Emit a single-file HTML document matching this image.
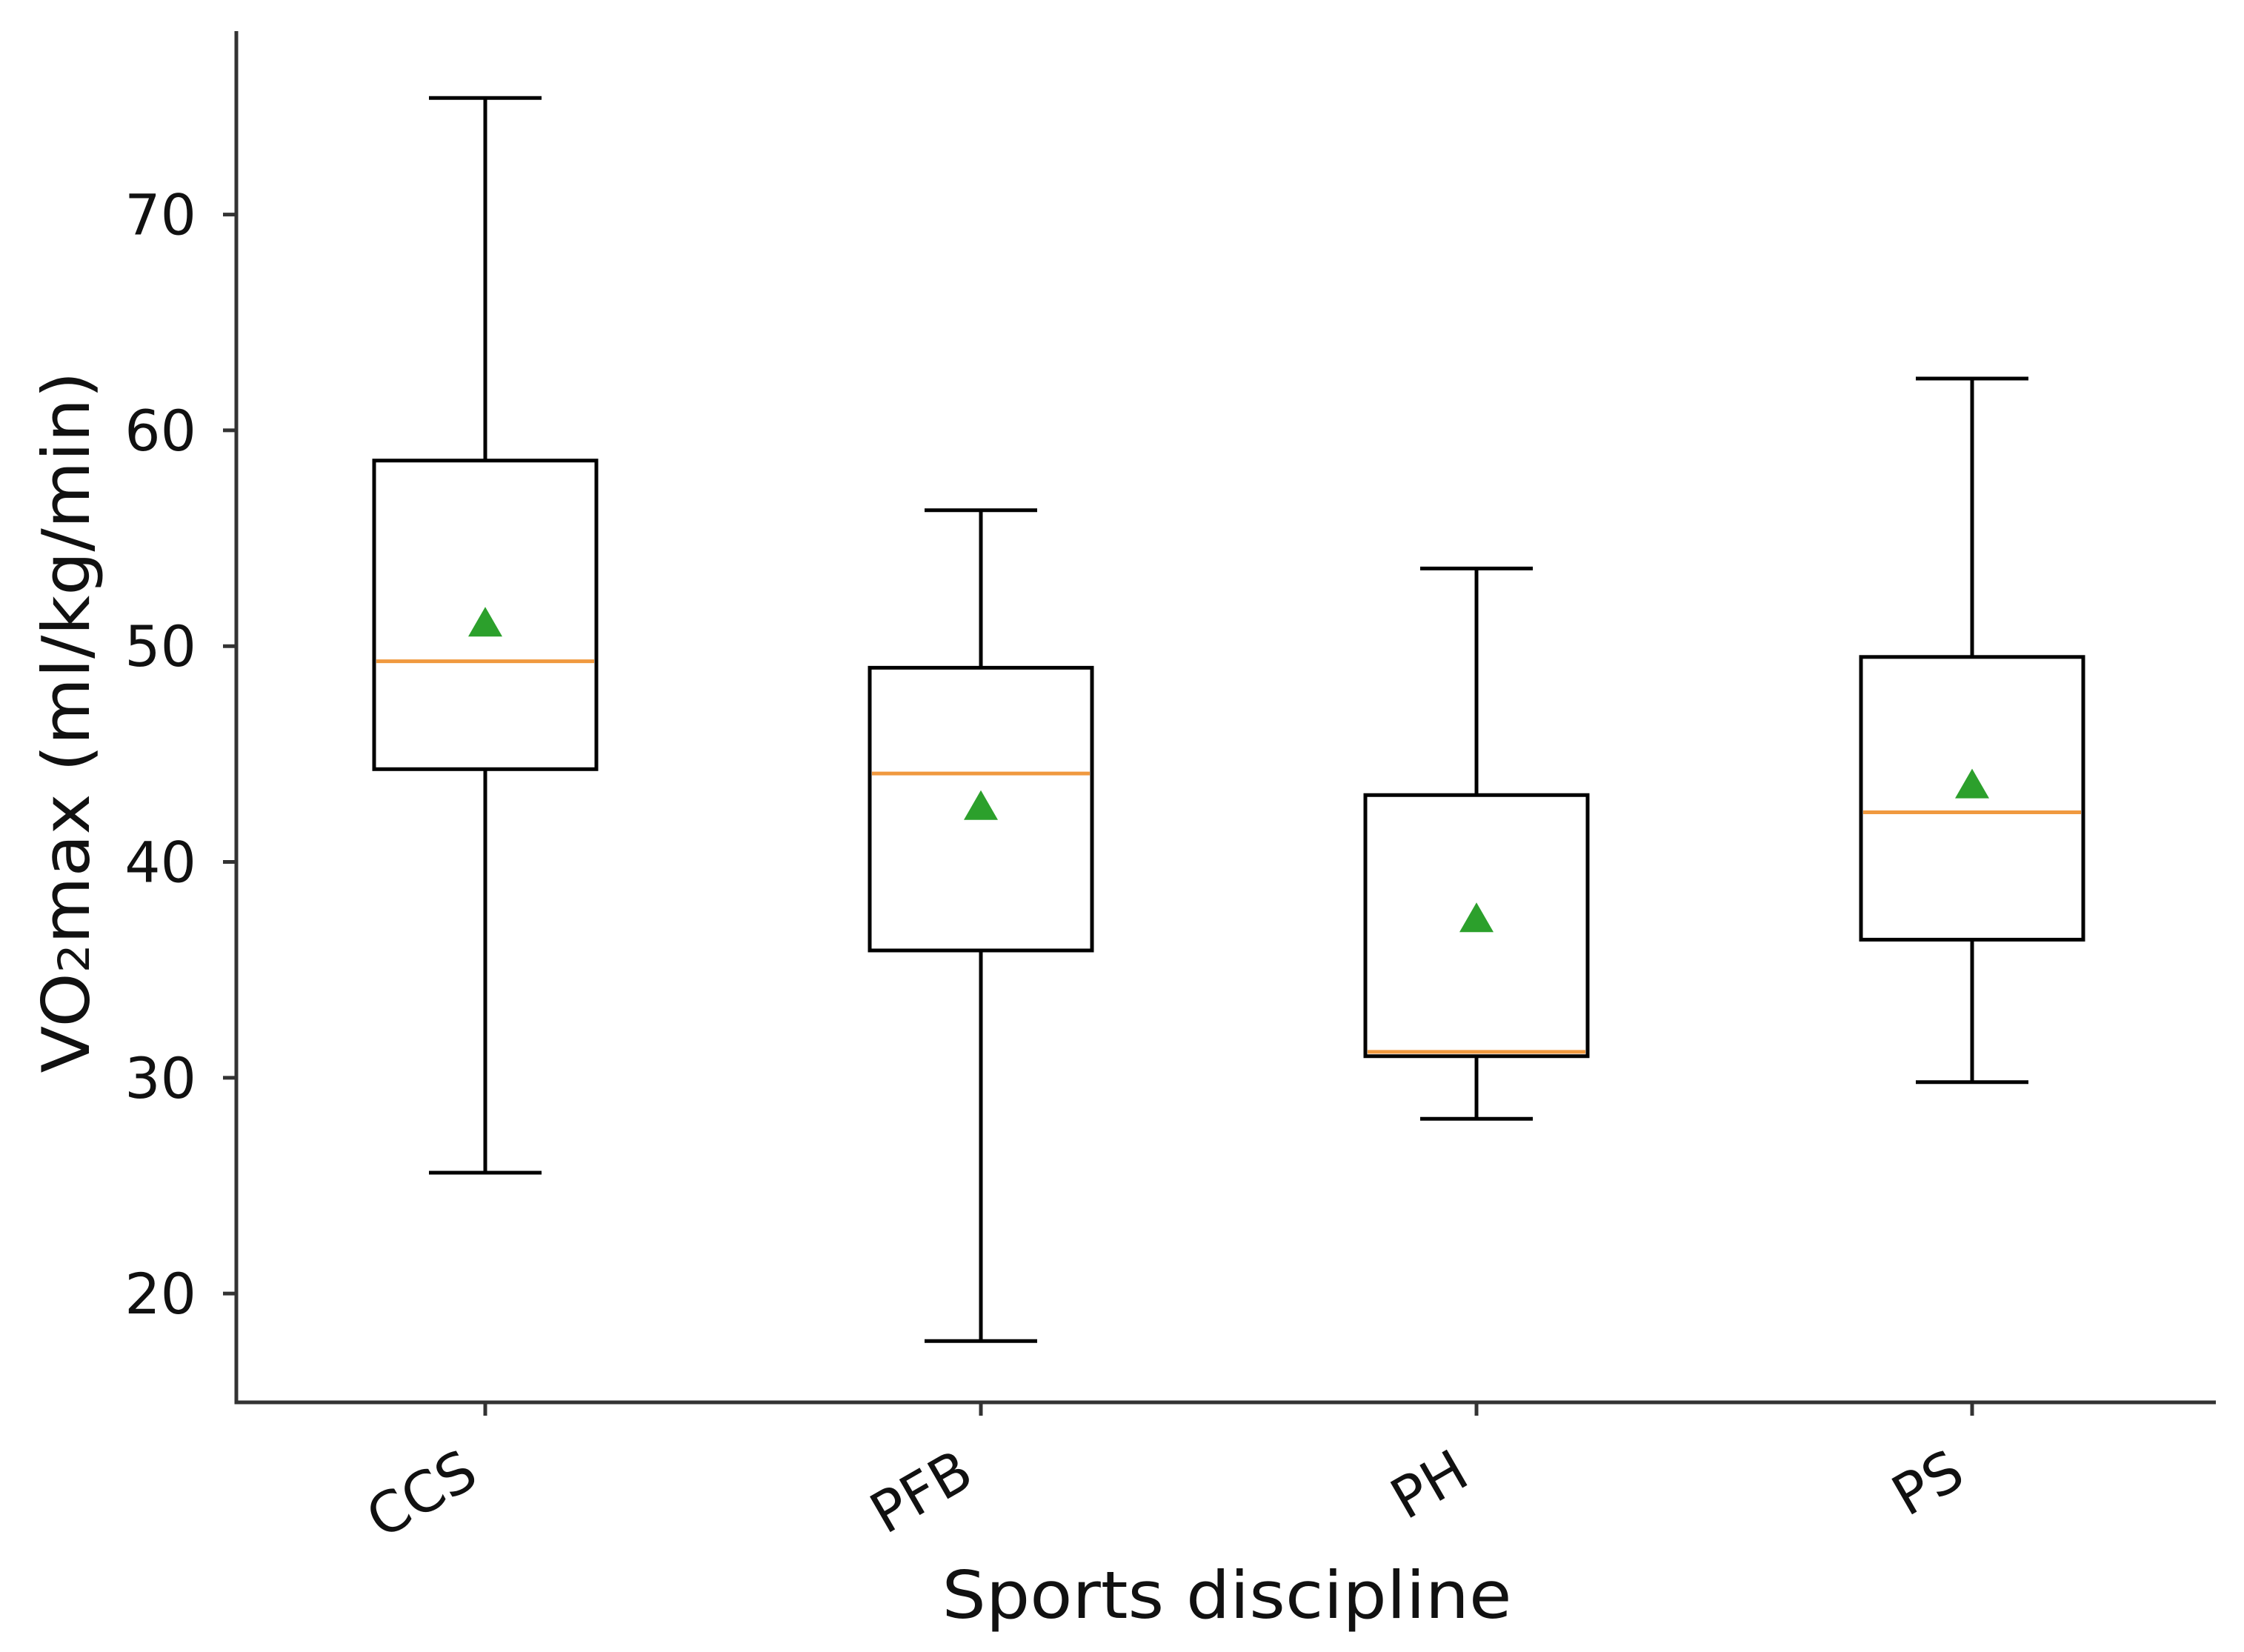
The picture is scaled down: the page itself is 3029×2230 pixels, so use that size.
<!DOCTYPE html>
<html><head><meta charset="utf-8"><style>html,body{margin:0;padding:0;background:#fff}svg{display:block}</style></head>
<body>
<svg id="chart" width="3029" height="2230" viewBox="0 0 3029 2230" xmlns="http://www.w3.org/2000/svg" font-family="DejaVu Sans, Liberation Sans, sans-serif">
<g id="plot"></g>
<g id="axes"></g>
<text x="1656" y="2184" font-size="88" text-anchor="middle" textLength="769" lengthAdjust="spacingAndGlyphs" fill="#111">Sports discipline</text>
<text transform="translate(120,975) rotate(-90)" font-size="88" text-anchor="middle" textLength="947" lengthAdjust="spacingAndGlyphs" fill="#111">VO<tspan font-size="58">2</tspan>max (ml/kg/min)</text>
</svg>
<script>
const categories = ["CCS","PFB","PH","PS"];
const whiskerLow = [25.6, 17.8, 28.1, 29.8];
const q1 = [44.3, 35.9, 31.0, 36.4];
const medians = [49.3, 44.1, 31.2, 42.3];
const q3 = [58.6, 49.0, 43.1, 49.5];
const whiskerHigh = [75.4, 56.3, 53.6, 62.4];
const means = [51.1, 42.6, 37.4, 43.6];
const yTicks = [20, 30, 40, 50, 60, 70];

const NS = "http://www.w3.org/2000/svg";
const X0 = 319, X1 = 2991, Y0 = 1893, Y1 = 42;
const yMin = 14.96, yMax = 78.5;
function yScale(v){ return Y0 - (v - yMin) / (yMax - yMin) * (Y0 - Y1); }
function xScale(i){ return 655 + i * 669; }
function mk(tag, attrs, parent){ const e = document.createElementNS(NS, tag); for (const k in attrs) e.setAttribute(k, attrs[k]); parent.appendChild(e); return e; }
const plot = document.getElementById('plot');
const axes = document.getElementById('axes');
const halfBox = 150, halfCap = 76;

categories.forEach((c, i) => {
  const cx = xScale(i);
  const g = mk('g', {}, plot);
  
  
  const st = {stroke:'#000','stroke-width':5,fill:'none'};
  const w1 = mk('line', Object.assign({x1:cx,x2:cx,y1:yScale(whiskerHigh[i]),y2:yScale(q3[i])}, st), g);
  
  
  const w2 = mk('line', Object.assign({x1:cx,x2:cx,y1:yScale(q1[i]),y2:yScale(whiskerLow[i])}, st), g);
  
  
  const c1 = mk('line', Object.assign({x1:cx-halfCap,x2:cx+halfCap,y1:yScale(whiskerHigh[i]),y2:yScale(whiskerHigh[i])}, st), g);
  
  
  const c2 = mk('line', Object.assign({x1:cx-halfCap,x2:cx+halfCap,y1:yScale(whiskerLow[i]),y2:yScale(whiskerLow[i])}, st), g);
  
  
  const r = mk('rect', Object.assign({x:cx-halfBox,y:yScale(q3[i]),width:2*halfBox,height:yScale(q1[i])-yScale(q3[i])}, st), g);
  
  
  const m = mk('line', {x1:cx-halfBox+3,x2:cx+halfBox-3,y1:yScale(medians[i]),y2:yScale(medians[i]),stroke:'#f0993f','stroke-width':5}, g);
  
  
  const my = yScale(means[i]);
  const t = mk('polygon', {points:`${cx},${my-21} ${cx-23},${my+19} ${cx+23},${my+19}`, fill:'#2ca02c'}, g);
  
  
  const tk = mk('line', {x1:cx,x2:cx,y1:Y0,y2:Y0+18,stroke:'#333','stroke-width':5}, axes);
  
  
  const lb = mk('text', {transform:`translate(${cx-6},${Y0+108}) rotate(-30)`, 'text-anchor':'end','font-size':76, fill:'#111'}, axes);
  lb.textContent = c;
  
  
});

yTicks.forEach(v => {
  const y = yScale(v);
  const tk = mk('line', {x1:X0-18,x2:X0,y1:y,y2:y,stroke:'#333','stroke-width':5}, axes);
  
  
  const lb = mk('text', {x:X0-54,y:y+27,'text-anchor':'end','font-size':76, fill:'#111'}, axes);
  lb.textContent = v;
  
  
});
const ya = mk('line', {x1:X0,x2:X0,y1:Y1,y2:Y0+2.5,stroke:'#333','stroke-width':5}, axes);


const xa = mk('line', {x1:X0-2.5,x2:X1,y1:Y0,y2:Y0,stroke:'#333','stroke-width':5}, axes);


</script>
</body></html>
